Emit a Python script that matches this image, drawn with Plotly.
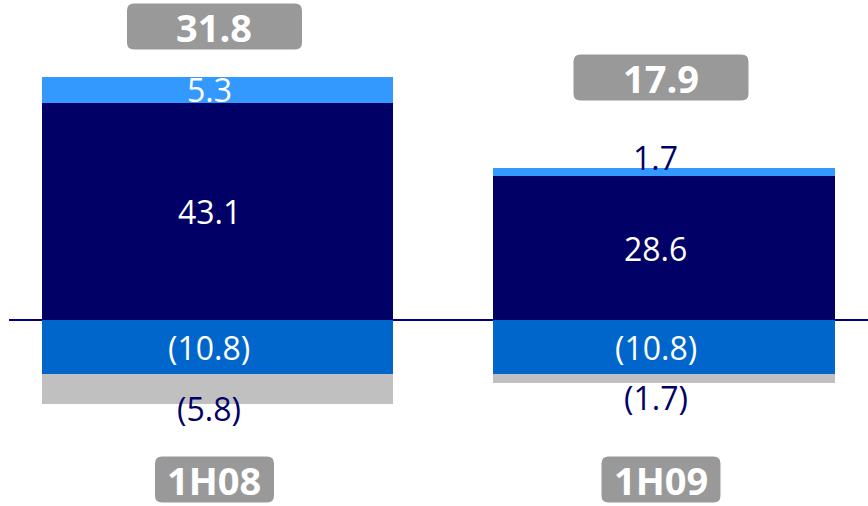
import plotly.graph_objects as go

# Half-year periods and their stacked components
periods = ["1H08", "1H09"]
core_result = [43.1, 28.6]        # dark navy, positive
other_income = [5.3, 1.7]         # light blue, positive
charges = [-10.8, -10.8]          # medium blue, negative
other_costs = [-5.8, -1.7]        # grey, negative
totals = [31.8, 17.9]

NAVY = "#000066"
LIGHT_BLUE = "#3399FF"
MID_BLUE = "#0066CC"
GREY = "#C0C0C0"
BOX_GREY = "#999999"
FONT = "Open Sans"

W, H = 868, 506
PX_PER_UNIT = 5.03
x_pos = [0, 1]
bar_widths = [0.786, 0.766]


def fmt(v):
    return f"({abs(v):.1f})" if v < 0 else f"{v:.1f}"


fig = go.Figure()
for vals, color in [(core_result, NAVY), (other_income, LIGHT_BLUE),
                    (charges, MID_BLUE), (other_costs, GREY)]:
    fig.add_trace(go.Bar(x=x_pos, y=vals, width=bar_widths,
                         marker=dict(color=color, line=dict(width=0)),
                         showlegend=False, hoverinfo="skip"))

# Zero baseline
fig.add_shape(type="line", xref="paper", yref="y", x0=9 / W, x1=1, y0=0, y1=0,
              line=dict(color="#000080", width=2), layer="below")

annotations = []

# Segment labels: (series, inside?, pixel shift when outside)
label_specs = [
    (core_result, [True, True], [0, 0]),
    (other_income, [True, False], [0, 10]),
    (charges, [True, True], [0, 0]),
    (other_costs, [False, False], [-5, -15]),
]
stack_pos = [0.0, 0.0]
stack_neg = [0.0, 0.0]
for vals, inside, shift in label_specs:
    for i, v in enumerate(vals):
        base = stack_pos[i] if v >= 0 else stack_neg[i]
        end = base + v
        if inside[i]:
            y, ys, col = base + v / 2, 0, "white"
        else:
            y, ys, col = end, shift[i], NAVY
        annotations.append(dict(x=x_pos[i], y=y, xref="x", yref="y", text=fmt(v),
                                showarrow=False, yshift=ys, xshift=-8,
                                font=dict(family=FONT, size=32, color=col)))
        if v >= 0:
            stack_pos[i] = end
        else:
            stack_neg[i] = end


def rounded_box(w, h, r, dx=0):
    x0, x1, y0, y1 = -w / 2 + dx, w / 2 + dx, -h / 2, h / 2
    return (f"M{x0 + r},{y0} L{x1 - r},{y0} Q{x1},{y0} {x1},{y0 + r} "
            f"L{x1},{y1 - r} Q{x1},{y1} {x1 - r},{y1} L{x0 + r},{y1} "
            f"Q{x0},{y1} {x0},{y1 - r} L{x0},{y0 + r} Q{x0},{y0} {x0 + r},{y0} Z")


def boxed_label(x, y, text, w, dx):
    fig.add_shape(type="path", xref="x", yref="y", xsizemode="pixel", ysizemode="pixel",
                  xanchor=x, yanchor=y, path=rounded_box(w, 46, 7, dx),
                  fillcolor=BOX_GREY, line=dict(width=0), layer="above")
    annotations.append(dict(x=x, y=y, xref="x", yref="y", text=f"<b>{text}</b>",
                            showarrow=False, xshift=dx,
                            font=dict(family=FONT, size=38, color="white")))


# Total value boxes above each bar
total_shift = [50, 90]
for i, t in enumerate(totals):
    top = core_result[i] + other_income[i]
    boxed_label(x_pos[i], top + total_shift[i] / PX_PER_UNIT, f"{t:.1f}", 175, -3)

# Period labels in boxes along the bottom
cat_y = (320 - 479.5) / PX_PER_UNIT
for i, p in enumerate(periods):
    boxed_label(x_pos[i], cat_y, p, 119, -3)

fig.update_layout(
    width=W, height=H,
    margin=dict(l=0, r=0, t=0, b=0),
    paper_bgcolor="white", plot_bgcolor="white",
    barmode="relative", bargap=0,
    xaxis=dict(range=[-0.4871, 1.4569], visible=False, fixedrange=True),
    yaxis=dict(range=[-186 / PX_PER_UNIT, 320 / PX_PER_UNIT], visible=False, fixedrange=True),
    annotations=annotations,
)

fig.write_html("out.html")
